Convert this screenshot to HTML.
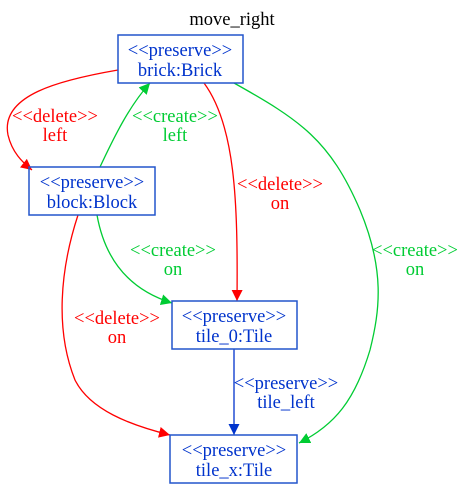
<!DOCTYPE html>
<html><head><meta charset="utf-8"><style>
body{margin:0;background:#fff}
svg text{font-family:"Liberation Serif",serif;font-size:18.5px;text-anchor:middle}
.b{fill:#0033cc}.r{fill:#ff0000}.g{fill:#00cc33}
rect{fill:none;stroke:#2255cc;stroke-width:1.5}
path.e{fill:none;stroke-width:1.3}
</style></head><body>
<svg width="464" height="488" viewBox="0 0 464 488">
<defs>
<marker id="mr" markerWidth="12" markerHeight="12" refX="11" refY="5.5" orient="auto" markerUnits="userSpaceOnUse"><polygon points="0,0 11,5.5 0,11" fill="#ff0000"/></marker>
<marker id="mg" markerWidth="12" markerHeight="12" refX="11" refY="5.5" orient="auto" markerUnits="userSpaceOnUse"><polygon points="0,0 11,5.5 0,11" fill="#00cc33"/></marker>
<marker id="mb" markerWidth="12" markerHeight="12" refX="11" refY="5.5" orient="auto" markerUnits="userSpaceOnUse"><polygon points="0,0 11,5.5 0,11" fill="#0033cc"/></marker>
</defs>
<text x="232" y="25">move_right</text>

<g>
<path class="e" d="M118,70 C60,80 0,95 8,135 C12,152 22,162 32,170" stroke="#ff0000" marker-end="url(#mr)"/>
<text class="r" x="55" y="122">&lt;&lt;delete&gt;&gt;</text><text class="r" x="55" y="141">left</text></g>
<g>
<path class="e" d="M100,167 C115,135 130,105 150,83" stroke="#00cc33" marker-end="url(#mg)"/>
<text class="g" x="175" y="122">&lt;&lt;create&gt;&gt;</text><text class="g" x="175" y="141">left</text></g>
<g>
<path class="e" d="M204,83 C235,125 238,200 237,301" stroke="#ff0000" marker-end="url(#mr)"/>
<text class="r" x="280" y="190">&lt;&lt;delete&gt;&gt;</text><text class="r" x="280" y="209">on</text></g>
<g>
<path class="e" d="M234,83 C300,120 330,140 360,210 C385,270 380,310 370,350 C355,400 335,425 299,443" stroke="#00cc33" marker-end="url(#mg)"/>
<text class="g" x="415" y="256">&lt;&lt;create&gt;&gt;</text><text class="g" x="415" y="275">on</text></g>
<g>
<path class="e" d="M97,215 C105,260 130,290 172,303" stroke="#00cc33" marker-end="url(#mg)"/>
<text class="g" x="173" y="256">&lt;&lt;create&gt;&gt;</text><text class="g" x="173" y="275">on</text></g>
<g>
<path class="e" d="M78,215 C60,270 55,330 75,380 C90,410 130,425 170,435" stroke="#ff0000" marker-end="url(#mr)"/>
<text class="r" x="117" y="324">&lt;&lt;delete&gt;&gt;</text><text class="r" x="117" y="343">on</text></g>
<g>
<path class="e" d="M234,349 L234,435" stroke="#0033cc" marker-end="url(#mb)"/>
<text class="b" x="286" y="389">&lt;&lt;preserve&gt;&gt;</text><text class="b" x="286" y="408">tile_left</text></g>

<g><rect x="118" y="35" width="125" height="48"/>
<text class="b" x="180" y="56">&lt;&lt;preserve&gt;&gt;</text><text class="b" x="180" y="76">brick:Brick</text></g>
<g><rect x="29" y="167" width="126" height="48"/>
<text class="b" x="92" y="188">&lt;&lt;preserve&gt;&gt;</text><text class="b" x="92" y="208">block:Block</text></g>
<g><rect x="172" y="301" width="125" height="48"/>
<text class="b" x="234" y="322">&lt;&lt;preserve&gt;&gt;</text><text class="b" x="234" y="342">tile_0:Tile</text></g>
<g><rect x="170" y="435" width="127" height="48"/>
<text class="b" x="234" y="456">&lt;&lt;preserve&gt;&gt;</text><text class="b" x="234" y="476">tile_x:Tile</text></g>
</svg>
</body></html>
